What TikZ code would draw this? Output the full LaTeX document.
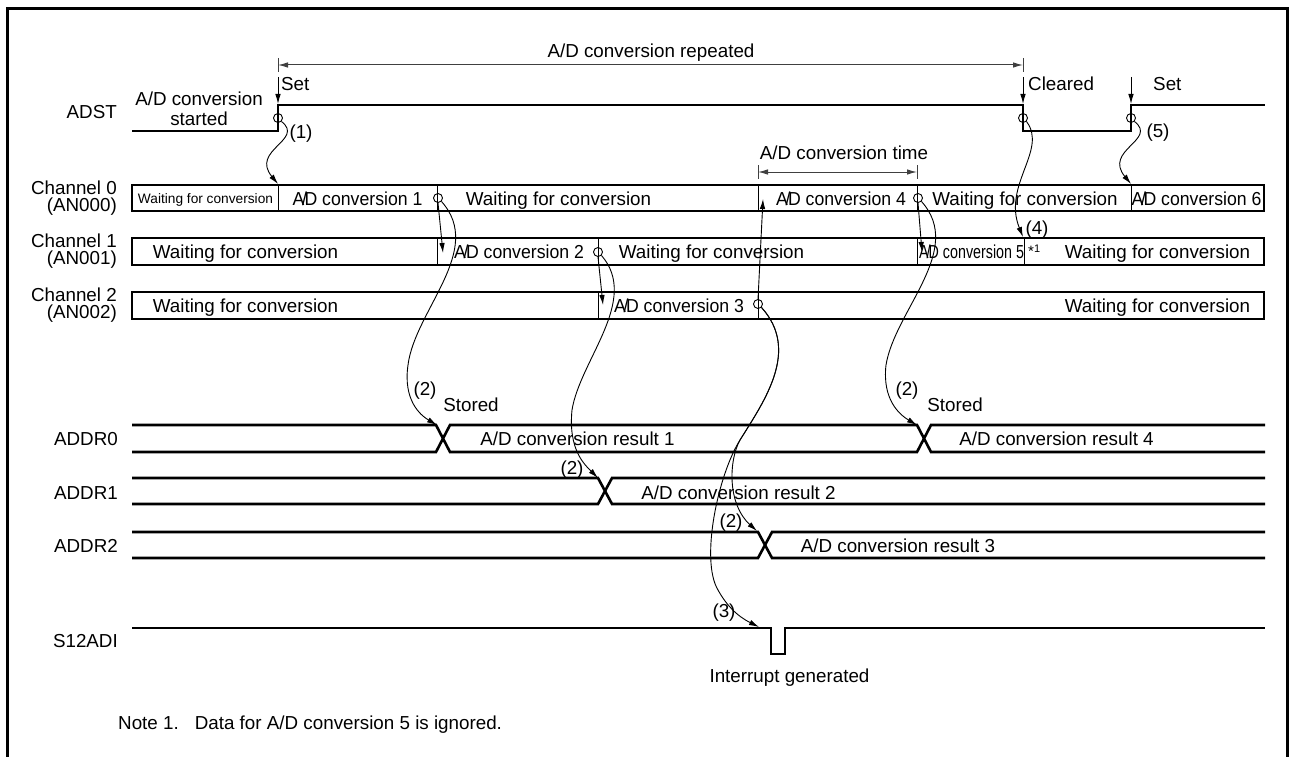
\documentclass[tikz,border=0pt]{standalone}
\usepackage{fontspec}
\usepackage{graphicx}
\setmainfont{Liberation Sans}
\usetikzlibrary{arrows.meta}
\newcommand\myAD{A\kern-2.5pt/\kern-2.5pt D}
\newcommand\chtext[1]{\scalebox{0.94}[1]{#1}}
\begin{document}
\begin{tikzpicture}[x=1pt,y=-1pt,
  frame/.style={line width=3pt},
  sig/.style={line width=2.6pt, line join=miter},
  div/.style={line width=1pt},
  tick/.style={line width=1pt, black!75},
  arr/.style={line width=0.9pt, -{Latex[length=10pt,width=5.5pt]}},
  dimarr/.style={line width=1pt, black!75, {Latex[length=10pt,width=5.5pt]}-{Latex[length=10pt,width=5.5pt]}},
  circ/.style={circle, draw, line width=0.9pt, minimum size=9pt, inner sep=0pt},
  txt/.style={inner sep=0pt, anchor=base, font=\fontsize{18.8}{20}\selectfont},
  rtxt/.style={txt, anchor=base east},
  ltxt/.style={txt, anchor=base west},
  smalltxt/.style={inner sep=0pt, anchor=base, font=\fontsize{13.7}{15}\selectfont}
]
\useasboundingbox (0,0) rectangle (1292,757);
% frame
\draw[frame] (7,757) -- (7,9) -- (1287,9) -- (1287,757);

% ---- A/D conversion repeated
\coordinate (rL) at (278,65); \coordinate (rR) at (1023,65);
\draw[tick] (278,58) -- (278,72);
\draw[tick] (1023,58) -- (1023,72);
\draw[dimarr] (rL) -- (rR);
\node[txt] (rep) at (651,57.5) {A/D conversion repeated};

% set / cleared arrows
\coordinate (s1a) at (278,77); \coordinate (s1b) at (278,104);
\coordinate (s2a) at (1023,77); \coordinate (s2b) at (1023,104);
\coordinate (s3a) at (1131,77); \coordinate (s3b) at (1131,104);
\draw[arr] (s1a) -- (s1b);
\draw[arr] (s2a) -- (s2b);
\draw[arr] (s3a) -- (s3b);
\node[ltxt] (setA) at (281,91) {Set};
\node[ltxt] (clr) at (1028,91) {Cleared};
\node[ltxt] (setB) at (1153,91) {Set};

% ADST
\node[rtxt] (adst) at (117,119) {ADST};
\node[txt] (st1) at (199,106) {A/D conversion};
\node[txt] (st2) at (199,125) {started};
\draw[sig] (132,131) -- (278,131) -- (278,105) -- (1023,105) -- (1023,131) -- (1131,131) -- (1131,105) -- (1265,105);
\node[circ] (cA) at (278,118) {};
\node[circ] (cB) at (1023,118) {};
\node[circ] (cC) at (1131,118) {};
\node[txt] (n1) at (301,139) {(1)};
\node[txt] (n5) at (1158,138) {(5)};

% ---- A/D conversion time
\coordinate (tL) at (758,172); \coordinate (tR) at (917,172);
\draw[tick] (758,165) -- (758,179);
\draw[tick] (917,165) -- (917,179);
\draw[dimarr] (tL) -- (tR);
\node[txt] (ctime) at (844,159) {A/D conversion time};

% ---- channel labels
\node[rtxt] (ch0a) at (117,194) {Channel 0};
\node[rtxt] (ch0b) at (117,211) {(AN000)};
\node[rtxt] (ch1a) at (117,247) {Channel 1};
\node[rtxt] (ch1b) at (117,264) {(AN001)};
\node[rtxt] (ch2a) at (117,301) {Channel 2};
\node[rtxt] (ch2b) at (117,318) {(AN002)};

% channel 0
\draw[div] (278,185) -- (278,211);
\draw[div] (437,185) -- (437,211);
\draw[div] (758,185) -- (758,211);
\draw[div] (917,185) -- (917,211);
\draw[div] (1131,185) -- (1131,211);
\draw[sig] (132,185) rectangle (1264,211);
\node[smalltxt] (w00) at (205.5,203) {Waiting for conversion};
\node[txt] (a01) at (357.5,205) {\chtext{\myAD{} conversion 1}};
\node[txt] (w01) at (558.5,205) {Waiting for conversion};
\node[txt] (a04) at (841,205) {\chtext{\myAD{} conversion 4}};
\node[txt] (w02) at (1025,205) {Waiting for conversion};
\node[txt] (a06) at (1196.5,205) {\chtext{\myAD{} conversion 6}};

% channel 1
\draw[div] (437,238) -- (437,265);
\draw[div] (598,238) -- (598,265);
\draw[div] (917,238) -- (917,265);
\draw[div] (1024,238) -- (1024,265);
\draw[sig] (132,238) rectangle (1264,265);
\node[txt] (w10) at (245.5,258) {Waiting for conversion};
\node[txt] (a12) at (519,258) {\chtext{\myAD{} conversion 2}};
\node[txt] (w11) at (711.5,258) {Waiting for conversion};
\node[txt] (a15) at (971.5,258) {\scalebox{0.76}[1]{\myAD{} conversion 5}};
\node[inner sep=0pt, anchor=base west, font=\fontsize{15}{16}\selectfont] (star) at (1028,256) {*\raisebox{4pt}{\fontsize{11}{12}\selectfont 1}};
\node[txt] (w12) at (1157.5,258) {Waiting for conversion};

% channel 2
\draw[div] (598,292) -- (598,319);
\draw[div] (758,292) -- (758,319);
\draw[sig] (132,292) rectangle (1264,319);
\node[txt] (w20) at (245.5,312) {Waiting for conversion};
\node[txt] (a23) at (679,312) {\chtext{\myAD{} conversion 3}};
\node[txt] (w21) at (1157.5,312) {Waiting for conversion};

% channel circles
\node[circ] (c0a) at (438,198) {};
\node[circ] (c0b) at (918,198) {};
\node[circ] (c1) at (598,252) {};
\node[circ] (c2) at (758,304) {};

% ---- ADDR buses
\node[rtxt] (addr0) at (118,445) {ADDR0};
\node[rtxt] (addr1) at (118,499) {ADDR1};
\node[rtxt] (addr2) at (118,552) {ADDR2};
\node[rtxt] (s12) at (118,647) {S12ADI};

\draw[sig] (132,425) -- (436,425) -- (450,452) -- (917,452) -- (931,425) -- (1265,425);
\draw[sig] (132,452) -- (436,452) -- (450,425) -- (917,425) -- (931,452) -- (1265,452);
\draw[sig] (132,478) -- (598,478) -- (612,504) -- (1265,504);
\draw[sig] (132,504) -- (598,504) -- (612,478) -- (1265,478);
\draw[sig] (132,532) -- (758,532) -- (772,558) -- (1265,558);
\draw[sig] (132,558) -- (758,558) -- (772,532) -- (1265,532);
\draw[sig] (132,628) -- (771,628) -- (771,654) -- (785,654) -- (785,628) -- (1265,628);

\node[txt] (r1) at (577.5,445) {A/D conversion result 1};
\node[txt] (r4) at (1056.5,445) {A/D conversion result 4};
\node[txt] (r2) at (738.5,499) {A/D conversion result 2};
\node[txt] (r3) at (898,552) {A/D conversion result 3};

\node[txt] (p2a) at (425,395) {(2)};
\node[txt] (sta) at (471,411) {Stored};
\node[txt] (p2b) at (907,395) {(2)};
\node[txt] (stb) at (955,411) {Stored};
\node[txt] (p2c) at (572,474) {(2)};
\node[txt] (p2d) at (731,527) {(2)};
\node[txt] (p3) at (724,617) {(3)};
\node[txt] (p4) at (1037,234) {(4)};

\node[txt] (intg) at (789.5,682) {Interrupt generated};
\node[ltxt] (note) at (118,729) {Note 1.\hspace{16pt}Data for A/D conversion 5 is ignored.};

% ---- curved connectors
\coordinate (t1) at (278,184);
\coordinate (t5) at (1131,184);
\coordinate (t4) at (1023,237);
\coordinate (k1) at (443,253);
\coordinate (k2) at (603,305);
\coordinate (k3) at (922,252);
\coordinate (k4) at (763,199);
\coordinate (x0a) at (437,425);
\coordinate (x0b) at (917,425);
\coordinate (x1) at (598,478);
\coordinate (x2) at (757,531);
\coordinate (ip) at (759,627);
\coordinate (split) at (740,440);

\draw[arr] (cA.south east) .. controls (305,140) and (250,150) .. (t1);
\draw[arr] (cC.south east) .. controls (1158,140) and (1103,150) .. (t5);
\draw[arr] (cB.south east) .. controls (1048,150) and (1002,185) .. (t4);

\draw[arr] (c0a.south) -- (k1);
\draw[arr] (c1.south) -- (k2);
\draw[arr] (c0b.south) -- (k3);
\draw[arr] (c2.north) -- (k4);

\draw[arr] (c0a.south east) .. controls (485,250) and (415,310) .. (408,365) .. controls (403,400) and (420,415) .. (x0a);
\draw[arr] (c0b.south east) .. controls (965,250) and (895,310) .. (886,365) .. controls (882,400) and (900,415) .. (x0b);
\draw[arr] (c1.south east) .. controls (640,300) and (580,360) .. (572,410) .. controls (568,450) and (585,465) .. (x1);
\draw[arr] (c2.south east) .. controls (800,350) and (765,400) .. (split) .. controls (728,462) and (728,505) .. (x2);
\draw[arr] (c2.south east) .. controls (800,350) and (765,400) .. (split) .. controls (718,475) and (700,560) .. (718,590) .. controls (730,612) and (745,620) .. (ip);
\end{tikzpicture}
\end{document}
